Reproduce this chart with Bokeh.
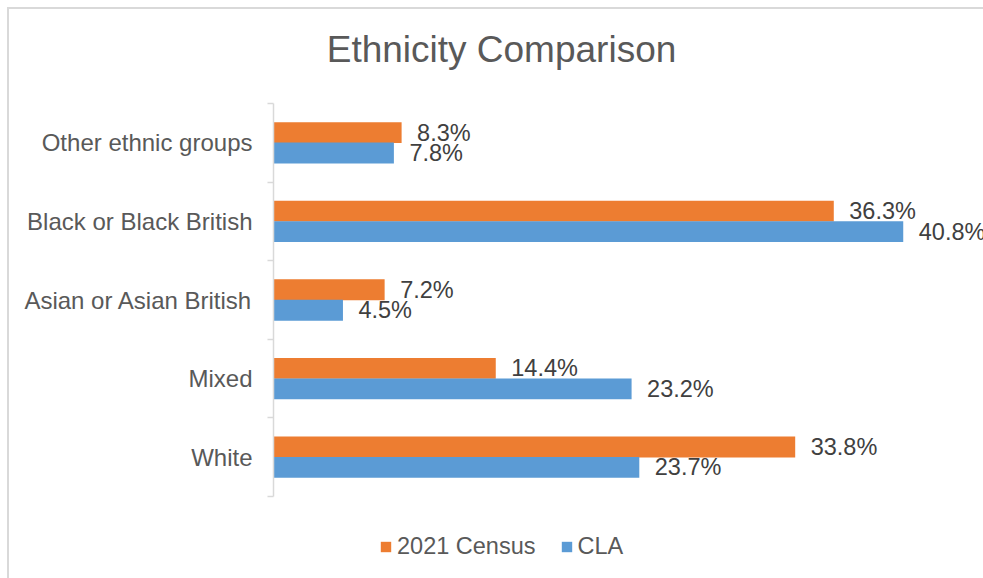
from bokeh.plotting import figure
from bokeh.models import Range1d, FixedTicker, ColumnDataSource, Legend, LegendItem, Label
from bokeh.transform import dodge
from bokeh.core.properties import value
from bokeh.embed import file_html
from bokeh.resources import INLINE

categories = ["White", "Mixed", "Asian or Asian British", "Black or Black British", "Other ethnic groups"]
census_2021 = [33.8, 14.4, 7.2, 36.3, 8.3]
cla = [23.7, 23.2, 4.5, 40.8, 7.8]
series_names = ["2021 Census", "CLA"]
title_text = "Ethnicity Comparison"

FONT = "Liberation Sans"
ORANGE = "#ED7D31"
BLUE = "#5B9BD5"

n = len(categories)
ypos = [i + 0.5 for i in range(n)]
src = ColumnDataSource(dict(
    y=ypos,
    census=census_2021,
    cla=cla,
    census_lbl=[f"{v:.1f}%" for v in census_2021],
    cla_lbl=[f"{v:.1f}%" for v in cla],
))

# layout: category bands occupy canvas rows 103..496, frame spans whole height
W, H = 983, 578
LEFT = 273
band_top, band_bottom = 103, 496
unit = (band_bottom - band_top) / n
y_lo = -(H - band_bottom) / unit
y_hi = n + band_top / unit

p = figure(width=W, height=H, x_range=Range1d(0, 46), y_range=Range1d(y_lo, y_hi),
           output_backend="svg", toolbar_location=None,
           min_border_left=LEFT, min_border_right=0, min_border_top=0, min_border_bottom=0)
p.xaxis.visible = False
p.xgrid.visible = False
p.ygrid.visible = False
p.outline_line_color = None
# transparent canvas so the host background (white + light grey chart border) shows
p.background_fill_color = None
p.border_fill_color = None
p.styles = {
    "background-color": "white",
    "background-image": "linear-gradient(#D9D9D9, #D9D9D9), linear-gradient(#D9D9D9, #D9D9D9)",
    "background-position": "7px 7px, 7px 7px",
    "background-size": "2px 100%, 100% 2px",
    "background-repeat": "no-repeat",
}

r1 = p.hbar(y=dodge("y", 0.13), right="census", left=0, height=0.265, fill_color=ORANGE,
            line_color=None, source=src)
r2 = p.hbar(y=dodge("y", -0.13), right="cla", left=0, height=0.265, fill_color=BLUE,
            line_color=None, source=src)

common = dict(x_offset=15.5, text_baseline="middle", text_align="left",
              text_font=value(FONT), text_font_size="23.5px", text_color="#404040", source=src)
p.text(x="census", y=dodge("y", 0.13), text="census_lbl", **common)
p.text(x="cla", y=dodge("y", -0.13), text="cla_lbl", **common)

ax = p.yaxis[0]
ax.ticker = FixedTicker(ticks=ypos, minor_ticks=list(range(n + 1)))
ax.bounds = (0, n)
ax.major_label_overrides = {y: c for y, c in zip(ypos, categories)}
ax.major_tick_out = 0
ax.major_tick_in = 0
ax.minor_tick_out = 6
ax.minor_tick_in = 0
ax.minor_tick_line_color = "#D9D9D9"
ax.minor_tick_line_width = 1.5
ax.axis_line_color = "#D9D9D9"
ax.axis_line_width = 1.5
ax.major_label_standoff = 15
ax.major_label_text_font = FONT
ax.major_label_text_font_size = "24px"
ax.major_label_text_color = "#595959"

title = Label(x=228, y=H - 49, x_units="screen", y_units="screen", text=title_text,
              text_align="center", text_baseline="alphabetic", text_font=FONT,
              text_font_size="37px", text_color="#595959")
p.add_layout(title)

legend = Legend(items=[LegendItem(label=series_names[0], renderers=[r1]),
                       LegendItem(label=series_names[1], renderers=[r2])],
                orientation="horizontal", location=(106, 18))
legend.border_line_color = None
legend.background_fill_alpha = 0
legend.padding = 0
legend.margin = 0
legend.glyph_width = 13
legend.glyph_height = 13
legend.label_standoff = 5
legend.spacing = 24
legend.label_text_font = FONT
legend.label_text_font_size = "23.5px"
legend.label_text_color = "#595959"
p.add_layout(legend)

out = open("out.html", "w")
out.write(file_html(p, INLINE))
out.close()
